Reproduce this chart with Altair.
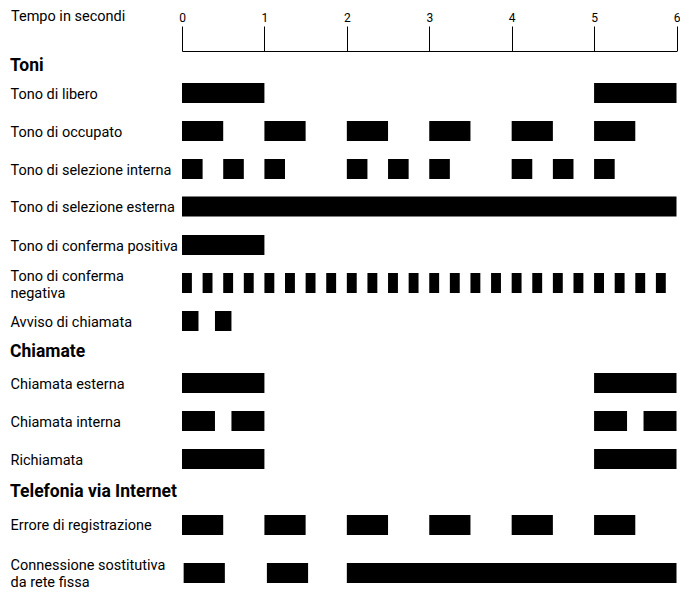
import altair as alt
import pandas as pd

# ---- data ----
ROW_LABELS = [
    "Tono di libero",
    "Tono di occupato",
    "Tono di selezione interna",
    "Tono di selezione esterna",
    "Tono di conferma positiva",
    "Tono di conferma\nnegativa",
    "Avviso di chiamata",
    "Chiamata esterna",
    "Chiamata interna",
    "Richiamata",
    "Errore di registrazione",
    "Connessione sostitutiva\nda rete fissa",
]
# on-intervals (start, end) in seconds for each row
SEGMENTS = [
    [(0, 1.0), (5.0, 6.0)],
    [(0, 0.5), (1.0, 1.5), (2.0, 2.5), (3.0, 3.5), (4.0, 4.5), (5.0, 5.5)],
    [(0, 0.25), (0.5, 0.75), (1.0, 1.25), (2.0, 2.25), (2.5, 2.75), (3.0, 3.25),
     (4.0, 4.25), (4.5, 4.75), (5.0, 5.25)],
    [(0, 6.0)],
    [(0, 1.0)],
    [(0.0, 0.12), (0.25, 0.37), (0.5, 0.62), (0.75, 0.87), (1.0, 1.12), (1.25, 1.37),
     (1.5, 1.62), (1.75, 1.87), (2.0, 2.12), (2.25, 2.37), (2.5, 2.62), (2.75, 2.87),
     (3.0, 3.12), (3.25, 3.37), (3.5, 3.62), (3.75, 3.87), (4.0, 4.12), (4.25, 4.37),
     (4.5, 4.62), (4.75, 4.87), (5.0, 5.12), (5.25, 5.37), (5.5, 5.62), (5.75, 5.87)],
    [(0, 0.2), (0.4, 0.6)],
    [(0, 1.0), (5.0, 6.0)],
    [(0, 0.4), (0.6, 1.0), (5.0, 5.4), (5.6, 6.0)],
    [(0, 1.0), (5.0, 6.0)],
    [(0, 0.5), (1.0, 1.5), (2.0, 2.5), (3.0, 3.5), (4.0, 4.5), (5.0, 5.5)],
    [(0.02, 0.52), (1.03, 1.53), (2.0, 6.0)],
]
HEADERS = ["Toni", "Chiamate", "Telefonia via Internet"]
TICKS = [0, 1, 2, 3, 4, 5, 6]
AXIS_TITLE = "Tempo in secondi"

# ---- layout (vertical positions, in page pixels) ----
ROW_Y = [93, 131, 169, 206.5, 245, 283, 321, 383, 421, 459, 525, 573]       # bar centres
LABEL_BASE = [99.3, 136.5, 174.5, 212, 250.5, 281, 326.5, 388.5, 426.5, 464.5, 529.5, 570]
HEADER_BASE = [70.7, 357.3, 496.7]
BAR_H = 20
TOP = 51            # page y of the time axis line
BOTTOM = 593
H = BOTTOM - TOP
FONT = "Roboto"
TEXT_X = 2.5

bars = []
for label, segs, yc in zip(ROW_LABELS, SEGMENTS, ROW_Y):
    for s, e in segs:
        bars.append({"row": label, "start": s, "end": e, "yc": yc})
bars = pd.DataFrame(bars)
labels = pd.DataFrame({"label": ROW_LABELS, "yb": LABEL_BASE})
heads = pd.DataFrame({"label": HEADERS, "yb": HEADER_BASE})

yscale = alt.Scale(domain=[TOP, BOTTOM], range=[0, H])
xscale = alt.Scale(domain=[0, 6], range=[174, 668.5])

rects = alt.Chart(bars).transform_calculate(
    y0=f"datum.yc - {BAR_H/2}", y1=f"datum.yc + {BAR_H/2}"
).mark_rect(color="black").encode(
    x=alt.X("start:Q", scale=xscale, axis=alt.Axis(
        orient="top", values=TICKS, format="d", grid=False,
        domainColor="black", domainWidth=1, tickColor="black", tickWidth=1, tickSize=25,
        labelFont=FONT, labelFontSize=12, labelColor="black", labelPadding=5,
        labelBaseline="alphabetic", labelFlush=False, labelOverlap=False,
        title=AXIS_TITLE, titleFont=FONT, titleFontSize=14.5, titleFontWeight="normal",
        titleColor="black", titleX=TEXT_X, titleY=20.7 - TOP, titleAlign="left",
        titleBaseline="alphabetic", titleAngle=0,
    )),
    x2="end:Q",
    y=alt.Y("y0:Q", scale=yscale, axis=None),
    y2="y1:Q",
)

row_text = alt.Chart(labels).mark_text(
    align="left", baseline="alphabetic", font=FONT, fontSize=14.5, color="black",
    lineBreak="\n", lineHeight=17,
).encode(
    x=alt.value(TEXT_X),
    y=alt.Y("yb:Q", scale=yscale, axis=None),
    text="label:N",
)

head_text = alt.Chart(heads).mark_text(
    align="left", baseline="alphabetic", font=FONT, fontSize=17.5, fontWeight="bold",
    color="black",
).encode(
    x=alt.value(TEXT_X - 0.5),
    y=alt.Y("yb:Q", scale=yscale, axis=None),
    text="label:N",
)

chart = alt.layer(rects, row_text, head_text).properties(
    width=672, height=H,
    autosize=alt.AutoSizeParams(type="none"),
    padding={"left": 0, "top": TOP - 8, "right": 0, "bottom": 0},
).configure_view(stroke=None)

chart.save("out.html", embed_options={"renderer": "svg", "actions": False})
